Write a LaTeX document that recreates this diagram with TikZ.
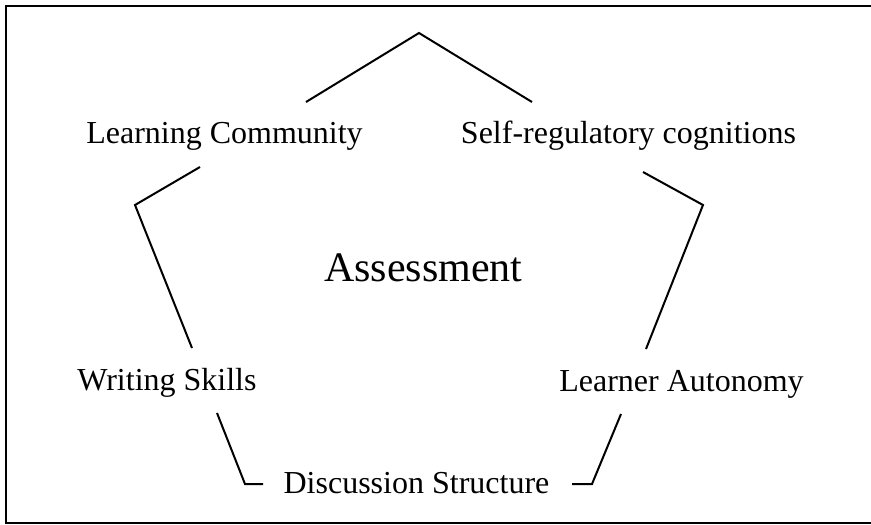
\documentclass[tikz,border=0pt]{standalone}
\usepackage{fontspec}
\setmainfont{Liberation Serif}
\begin{document}
\begin{tikzpicture}[x=1pt,y=-1pt,
  lbl/.style={anchor=base,inner sep=0pt,font=\fontsize{32}{38}\selectfont},
  big/.style={anchor=base,inner sep=0pt,font=\fontsize{42}{50}\selectfont},
  seg/.style={line width=2pt,line join=miter}]
\useasboundingbox (0,0) rectangle (871,525);
\draw[line width=1.6pt] (880,6) -- (6,6) -- (6,523) -- (880,523);
\node[lbl] (lc) at (224.5,143) {Learning Community};
\node[lbl] (src) at (628.5,143) {Self-regulatory cognitions};
\node[lbl] (ws) at (167,390) {Writing Skills};
\node[lbl] (la) at (681.5,391) {Learner Autonomy};
\node[lbl] (ds) at (416.5,493) {Discussion Structure};
\node[big] (as) at (423.5,281) {Assessment};
\coordinate (a1) at (306,102);
\coordinate (a2) at (419,33);
\coordinate (a3) at (532,102);
\coordinate (b1) at (200,167);
\coordinate (b2) at (135,205);
\coordinate (b3) at (192,348);
\coordinate (c1) at (643,172);
\coordinate (c2) at (703,205);
\coordinate (c3) at (646,349);
\coordinate (d1) at (217,413);
\coordinate (d2) at (245,484);
\coordinate (d3) at (263,484);
\coordinate (e1) at (621,414);
\coordinate (e2) at (592,484);
\coordinate (e3) at (572,484);
\draw[seg] (a1) -- (a2) -- (a3);
\draw[seg] (b1) -- (b2) -- (b3);
\draw[seg] (c1) -- (c2) -- (c3);
\draw[seg] (d1) -- (d2) -- (d3);
\draw[seg] (e1) -- (e2) -- (e3);
\end{tikzpicture}
\end{document}
